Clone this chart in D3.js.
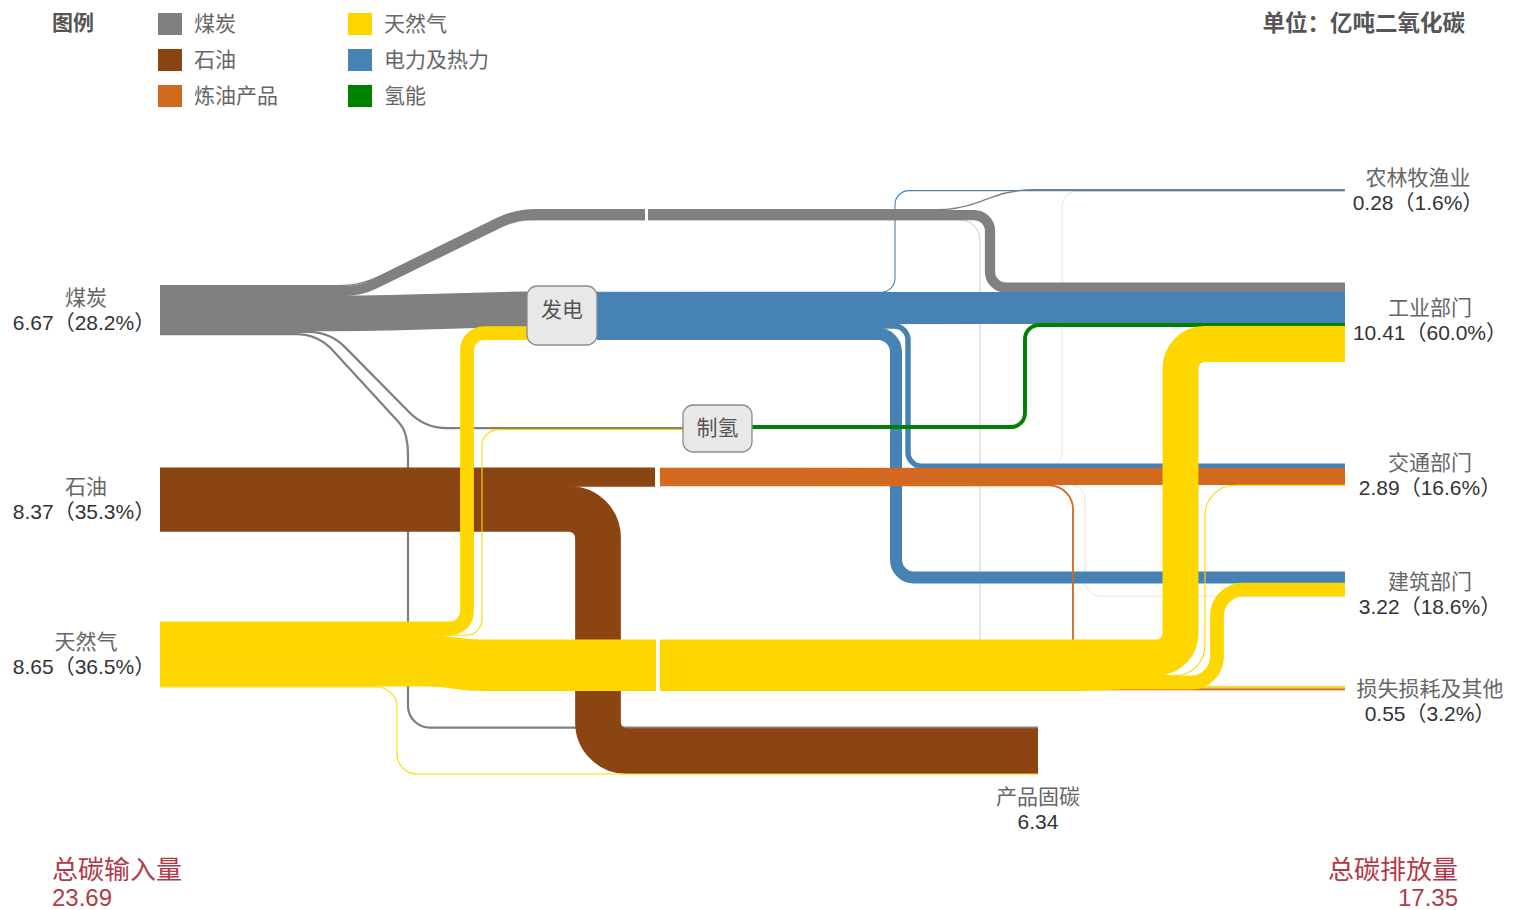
<!DOCTYPE html>
<html><head><meta charset="utf-8">
<script src="https://cdn.jsdelivr.net/npm/d3@7"></script>
<style>body{margin:0;background:#fff;} svg{display:block}</style>
</head><body><svg id="c" width="1513" height="910"></svg>
<script>
// ================= DATA =================
const sourceNames  = ['煤炭', '石油', '天然气'];
const sourceValues = [6.67, 8.37, 8.65];
const sourceShares = ['28.2%', '35.3%', '36.5%'];

const sinkNames  = ['农林牧渔业', '工业部门', '交通部门', '建筑部门', '损失损耗及其他'];
const sinkValues = [0.28, 10.41, 2.89, 3.22, 0.55];
const sinkShares = ['1.6%', '60.0%', '16.6%', '18.6%', '3.2%'];

const fixedName  = '产品固碳';
const fixedValue = 6.34;

const legendNames = ['煤炭', '石油', '炼油产品', '天然气', '电力及热力', '氢能'];
const legendKeys  = ['煤炭', '石油', '炼油', '天然气', '发电', '制氢'];

// flows: [source, target, value (亿吨CO2)]
const links = [
  ['煤炭', '农林牧渔业', 0.18], ['煤炭', '工业部门', 1.24], ['煤炭', '损失损耗及其他', 0.07],
  ['煤炭', '发电', 4.58], ['煤炭', '制氢', 0.30], ['煤炭', '产品固碳', 0.30],
  ['石油', '炼油', 2.43], ['石油', '产品固碳', 5.94],
  ['天然气', '发电', 1.71], ['天然气', '制氢', 0.10], ['天然气', '工业部门', 4.64],
  ['天然气', '交通部门', 0.15], ['天然气', '建筑部门', 1.71], ['天然气', '损失损耗及其他', 0.24],
  ['天然气', '产品固碳', 0.10],
  ['发电', '农林牧渔业', 0.08], ['发电', '工业部门', 4.13], ['发电', '交通部门', 0.60], ['发电', '建筑部门', 1.48],
  ['制氢', '工业部门', 0.40],
  ['炼油', '农林牧渔业', 0.02], ['炼油', '交通部门', 2.14], ['炼油', '建筑部门', 0.03], ['炼油', '损失损耗及其他', 0.24]
];

// ================= LAYOUT / STYLE =================
const W = d3.scaleLinear().domain([0, 1]).range([0, 7.55]);   // value -> band thickness

const nodeLayout = {
  '煤炭':   { x1: 160, outTop: 285 },
  '石油':   { x1: 160, outTop: 468 },
  '天然气': { x1: 160, outTop: 622 },
  '发电':   { x0: 527, x1: 597, inTop: 292, outTop: 292, box: [527, 286, 70, 59], textY: 310 },
  '制氢':   { x0: 683, x1: 752, inTop: 427, outTop: 425.5, box: [683, 405, 69, 47], textY: 428 },
  '炼油':   { x0: 655, x1: 660, inTop: 468, outTop: 468 },
  '农林牧渔业':   { x0: 1345, inTop: 189, lx: 1418, ly: 178 },
  '工业部门':     { x0: 1345, inTop: 283, lx: 1430, ly: 308 },
  '交通部门':     { x0: 1345, inTop: 464, lx: 1430, ly: 463 },
  '建筑部门':     { x0: 1345, inTop: 572, lx: 1430, ly: 582 },
  '损失损耗及其他': { x0: 1345, inTop: 686, lx: 1430, ly: 689 },
  '产品固碳':     { x0: 1038, inTop: 726.5, lx: 1038, ly: 797 }
};

const outOrder = {
  '煤炭':   ['农林牧渔业', '工业部门', '损失损耗及其他', '发电', '制氢', '产品固碳'],
  '石油':   ['炼油', '产品固碳'],
  '天然气': ['发电', '制氢', '工业部门', '交通部门', '建筑部门', '损失损耗及其他', '产品固碳'],
  '发电':   ['农林牧渔业', '工业部门', '交通部门', '建筑部门'],
  '制氢':   ['工业部门'],
  '炼油':   ['农林牧渔业', '交通部门', '建筑部门', '损失损耗及其他']
};
const inOrder = {
  '发电': ['煤炭', '天然气'],
  '制氢': ['煤炭', '天然气'],
  '炼油': ['石油'],
  '农林牧渔业': ['煤炭', '发电', '炼油'],
  '工业部门': ['煤炭', '发电', '制氢', '天然气'],
  '交通部门': ['发电', '炼油', '天然气'],
  '建筑部门': ['发电', '天然气', '炼油'],
  '损失损耗及其他': ['煤炭', '天然气', '炼油'],
  '产品固碳': ['煤炭', '石油', '天然气']
};
const bundles = {
  coalTop: { top: 209, order: ['煤炭→农林牧渔业', '煤炭→工业部门', '煤炭→损失损耗及其他'] },
  gasMain: { top: 640, order: ['天然气→工业部门', '天然气→交通部门', '天然气→建筑部门', '天然气→损失损耗及其他'] }
};
// route waypoints: 'S' source end, 'T' target end, [x,'S'|'T'|'B'|number]
const routes = {
  '煤炭→农林牧渔业': ['S', [360, 'S'], [515, 'B'], [958, 'B'], [1012, 'T'], 'T'],
  '煤炭→工业部门':   ['S', [360, 'S'], [515, 'B'], [990, 'B'], [990, 'T'], 'T'],
  '煤炭→损失损耗及其他': ['S', [360, 'S'], [515, 'B'], [980, 'B'], [980, 'T'], 'T'],
  '煤炭→发电':       ['S', [360, 'S'], [515, 'T'], 'T'],
  '煤炭→制氢':       ['S', [330, 'S'], [425, 'T'], 'T'],
  '煤炭→产品固碳':   ['S', [318, 'S'], [404, 428], [408, 445], [408, 'T'], 'T'],
  '石油→产品固碳':   ['S', [598, 'S'], [598, 'T'], 'T'],
  '天然气→发电':     ['S', [467, 'S'], [467, 'T'], 'T'],
  '天然气→制氢':     ['S', [482, 'S'], [482, 'T'], 'T'],
  '天然气→工业部门': ['S', [440, 'S'], [468, 'B'], [1180.5, 'B'], [1180.5, 'T'], 'T'],
  '天然气→交通部门': ['S', [440, 'S'], [468, 'B'], [1205, 'B'], [1205, 'T'], 'T'],
  '天然气→建筑部门': ['S', [440, 'S'], [468, 'B'], [1217, 'B'], [1217, 'T'], 'T'],
  '天然气→损失损耗及其他': ['S', [440, 'S'], [468, 'B'], [1100, 'B'], [1130, 'T'], 'T'],
  '天然气→产品固碳': ['S', [397, 'S'], [397, 'T'], 'T'],
  '发电→农林牧渔业': ['S', [895, 'S'], [895, 'T'], 'T'],
  '发电→交通部门':   ['S', [908, 'S'], [908, 'T'], 'T'],
  '发电→建筑部门':   ['S', [896, 'S'], [896, 'T'], 'T'],
  '制氢→工业部门':   ['S', [1025, 'S'], [1025, 'T'], 'T'],
  '炼油→农林牧渔业': ['S', [1062, 'S'], [1062, 'T'], 'T'],
  '炼油→建筑部门':   ['S', [1085, 'S'], [1085, 'T'], 'T'],
  '炼油→损失损耗及其他': ['S', [1073, 'S'], [1073, 'T'], 'T']
};
const radii = {
  '煤炭→农林牧渔业': 22, '煤炭→工业部门': 16, '煤炭→损失损耗及其他': 20, '煤炭→发电': 30,
  '煤炭→制氢': 22, '煤炭→产品固碳': 22, '石油→产品固碳': 29,
  '天然气→发电': 17, '天然气→制氢': 16, '天然气→工业部门': 24, '天然气→交通部门': 30,
  '天然气→建筑部门': 26, '天然气→损失损耗及其他': 20, '天然气→产品固碳': 20,
  '发电→农林牧渔业': 14, '发电→交通部门': 14, '发电→建筑部门': 18, '制氢→工业部门': 14,
  '炼油→农林牧渔业': 16, '炼油→建筑部门': 16, '炼油→损失损耗及其他': 24
};
const carrierColor = { '煤炭': '#808080', '石油': '#8B4513', '炼油': '#D2691E',
                       '天然气': '#FFD700', '发电': '#4682B4', '制氢': '#008000' };
const faintStyle = {
  '煤炭→损失损耗及其他': { color: '#c8c8c8', opacity: 0.9 },
  '炼油→农林牧渔业':     { color: '#e9d3bd', opacity: 0.7 },
  '炼油→建筑部门':       { color: '#e9d3bd', opacity: 0.7 }
};
const underLinks = ['发电→农林牧渔业'];            // drawn beneath the coal bands
const drawOrder = ['煤炭', '发电', '制氢', '石油', '炼油', '天然气'];
const separators = [{ bundle: 'coalTop', x: 645, w: 3 }, { bundle: 'gasMain', x: 656, w: 4 }];

const CJK = '"Noto Sans CJK SC", "Noto Sans", sans-serif';
const NUM = '"Liberation Sans", Arial, "Noto Sans CJK SC", sans-serif';

// ================= COMPUTE =================
const linkMap = new Map(links.map(([s, t, v]) => [s + '→' + t, { id: s + '→' + t, source: s, target: t, value: v, w: W(v) }]));
for (const [node, order] of Object.entries(outOrder)) {
  let y = nodeLayout[node].outTop;
  order.forEach(t => { const l = linkMap.get(node + '→' + t); l.y0 = y + l.w / 2; y += l.w; });
}
for (const [node, order] of Object.entries(inOrder)) {
  let y = nodeLayout[node].inTop;
  order.forEach(s => { const l = linkMap.get(s + '→' + node); l.y1 = y + l.w / 2; y += l.w; });
}
for (const def of Object.values(bundles)) {
  let y = def.top;
  def.order.forEach(id => { const l = linkMap.get(id); l.yb = y + l.w / 2; y += l.w; });
  def.bottom = y;
}
linkMap.forEach(l => { l.x0 = nodeLayout[l.source].x1; l.x1 = nodeLayout[l.target].x0; });

function resolve(l) {
  const r = routes[l.id] || ['S', 'T'];
  return r.map(p => {
    if (p === 'S') return [l.x0, l.y0];
    if (p === 'T') return [l.x1, l.y1];
    const y = p[1] === 'S' ? l.y0 : p[1] === 'T' ? l.y1 : p[1] === 'B' ? l.yb : p[1];
    return [p[0], y];
  });
}
function roundedPath(pts, r) {
  let d = `M${pts[0][0]},${pts[0][1]}`;
  for (let i = 1; i < pts.length - 1; i++) {
    const p0 = pts[i - 1], p1 = pts[i], p2 = pts[i + 1];
    const v1 = [p1[0] - p0[0], p1[1] - p0[1]], v2 = [p2[0] - p1[0], p2[1] - p1[1]];
    const l1 = Math.hypot(v1[0], v1[1]), l2 = Math.hypot(v2[0], v2[1]);
    if (l1 < 1e-6 || l2 < 1e-6) { d += `L${p1[0]},${p1[1]}`; continue; }
    const u1 = [v1[0] / l1, v1[1] / l1], u2 = [v2[0] / l2, v2[1] / l2];
    const cosT = u1[0] * u2[0] + u1[1] * u2[1];
    const theta = Math.acos(Math.max(-1, Math.min(1, cosT)));
    if (theta < 1e-3) { d += `L${p1[0]},${p1[1]}`; continue; }
    const lim1 = i === 1 ? l1 : l1 / 2, lim2 = i === pts.length - 2 ? l2 : l2 / 2;
    const t = Math.min(r, lim1, lim2);
    const R = t / Math.tan(theta / 2);
    const h = 4 / 3 * Math.tan(theta / 4) * R;
    const a = [p1[0] - u1[0] * t, p1[1] - u1[1] * t], b = [p1[0] + u2[0] * t, p1[1] + u2[1] * t];
    const c1 = [a[0] + u1[0] * h, a[1] + u1[1] * h], c2 = [b[0] - u2[0] * h, b[1] - u2[1] * h];
    d += `L${a[0]},${a[1]}C${c1[0]},${c1[1]} ${c2[0]},${c2[1]} ${b[0]},${b[1]}`;
  }
  const e = pts[pts.length - 1];
  d += `L${e[0]},${e[1]}`;
  return d;
}
// small overlap hides anti-aliasing seams between stacked flows of one band
const strokeW = l => l.w > 2.5 ? l.w + 0.9 : Math.max(l.w, 1.1);

// ================= DRAW =================
const svg = d3.select('#c');
const gLinks = svg.append('g').attr('fill', 'none');

const faintLinks = [...linkMap.values()].filter(l => faintStyle[l.id]);
gLinks.selectAll('path.faint').data(faintLinks).join('path')
  .attr('class', 'faint')
  .attr('d', l => roundedPath(resolve(l), radii[l.id] || 14))
  .attr('stroke', l => faintStyle[l.id].color)
  .attr('stroke-opacity', l => faintStyle[l.id].opacity)
  .attr('stroke-width', l => Math.max(l.w, 1));

gLinks.selectAll('path.under').data(underLinks.map(id => linkMap.get(id))).join('path')
  .attr('class', 'under')
  .attr('d', l => roundedPath(resolve(l), radii[l.id] || 14))
  .attr('stroke', l => carrierColor[l.source])
  .attr('stroke-width', l => Math.max(l.w, 1.1));

drawOrder.forEach(src => {
  const ls = [...linkMap.values()].filter(l => l.source === src && !faintStyle[l.id] && !underLinks.includes(l.id));
  gLinks.append('g').selectAll('path').data(ls).join('path')
    .attr('d', l => roundedPath(resolve(l), radii[l.id] || 14))
    .attr('stroke', carrierColor[src])
    .attr('stroke-width', strokeW)
    .attr('stroke-linecap', 'butt')
    .attr('stroke-linejoin', 'round');
});

// white column separators
separators.forEach(s => {
  const b = bundles[s.bundle];
  svg.append('rect').attr('x', s.x).attr('y', b.top - 2).attr('width', s.w)
    .attr('height', b.bottom - b.top + 4).attr('fill', '#fff');
});

// conversion boxes
['发电', '制氢'].forEach(n => {
  const L = nodeLayout[n];
  svg.append('rect').attr('x', L.box[0]).attr('y', L.box[1]).attr('width', L.box[2]).attr('height', L.box[3])
    .attr('rx', 10).attr('fill', '#e8e8e8').attr('stroke', '#8c8c8c').attr('stroke-width', 1.3);
  svg.append('text').attr('x', L.box[0] + L.box[2] / 2).attr('y', L.textY).attr('dy', '0.35em')
    .attr('text-anchor', 'middle').attr('font-family', CJK).attr('font-size', 21).attr('fill', '#555').text(n);
});

// input labels
sourceNames.forEach((n, i) => {
  const c = nodeLayout[n].outTop + W(sourceValues[i]) / 2;
  svg.append('text').attr('x', 86).attr('y', c - 13).attr('dy', '0.35em').attr('text-anchor', 'middle')
    .attr('font-family', CJK).attr('font-size', 21).attr('fill', '#666').text(n);
  svg.append('text').attr('x', 84).attr('y', c + 12).attr('dy', '0.35em').attr('text-anchor', 'middle')
    .attr('font-family', NUM).attr('font-size', 21).attr('fill', '#333')
    .text(`${sourceValues[i].toFixed(2)}（${sourceShares[i]}）`);
});
// output labels
sinkNames.forEach((n, i) => {
  const L = nodeLayout[n];
  svg.append('text').attr('x', L.lx).attr('y', L.ly).attr('dy', '0.35em').attr('text-anchor', 'middle')
    .attr('font-family', CJK).attr('font-size', 21).attr('fill', '#666').text(n);
  svg.append('text').attr('x', L.lx).attr('y', L.ly + 24.5).attr('dy', '0.35em').attr('text-anchor', 'middle')
    .attr('font-family', NUM).attr('font-size', 21).attr('fill', '#333')
    .text(`${sinkValues[i].toFixed(2)}（${sinkShares[i]}）`);
});
{
  const L = nodeLayout[fixedName];
  svg.append('text').attr('x', L.lx).attr('y', L.ly).attr('dy', '0.35em').attr('text-anchor', 'middle')
    .attr('font-family', CJK).attr('font-size', 21).attr('fill', '#666').text(fixedName);
  svg.append('text').attr('x', L.lx).attr('y', L.ly + 25).attr('dy', '0.35em').attr('text-anchor', 'middle')
    .attr('font-family', NUM).attr('font-size', 21).attr('fill', '#333').text(fixedValue.toFixed(2));
}

// legend
svg.append('text').attr('x', 52).attr('y', 23).attr('dy', '0.35em').attr('font-family', CJK)
  .attr('font-size', 21).attr('font-weight', 'bold').attr('fill', '#555').text('图例');
legendNames.forEach((n, i) => {
  const col = Math.floor(i / 3), row = i % 3;
  const x = [158, 348][col], y = [13, 49, 85][row];
  svg.append('rect').attr('x', x).attr('y', y).attr('width', 24).attr('height', 22)
    .attr('fill', carrierColor[legendKeys[i]]);
  svg.append('text').attr('x', x + 36).attr('y', y + 11).attr('dy', '0.35em').attr('font-family', CJK)
    .attr('font-size', 21).attr('fill', '#666').text(n);
});
svg.append('text').attr('x', 1465).attr('y', 23).attr('dy', '0.35em').attr('text-anchor', 'end')
  .attr('font-family', CJK).attr('font-size', 22.5).attr('font-weight', 'bold').attr('fill', '#555').text('单位：亿吨二氧化碳');

// totals
const red = '#b23a48';
svg.append('text').attr('x', 52).attr('y', 870).attr('dy', '0.35em').attr('font-family', CJK)
  .attr('font-size', 26).attr('fill', red).text('总碳输入量');
svg.append('text').attr('x', 52).attr('y', 898).attr('dy', '0.35em').attr('font-family', NUM)
  .attr('font-size', 24).attr('fill', red).text(d3.sum(sourceValues).toFixed(2));
svg.append('text').attr('x', 1458).attr('y', 870).attr('dy', '0.35em').attr('text-anchor', 'end').attr('font-family', CJK)
  .attr('font-size', 26).attr('fill', red).text('总碳排放量');
svg.append('text').attr('x', 1458).attr('y', 898).attr('dy', '0.35em').attr('text-anchor', 'end').attr('font-family', NUM)
  .attr('font-size', 24).attr('fill', red).text(d3.sum(sinkValues).toFixed(2));
</script></body></html>
